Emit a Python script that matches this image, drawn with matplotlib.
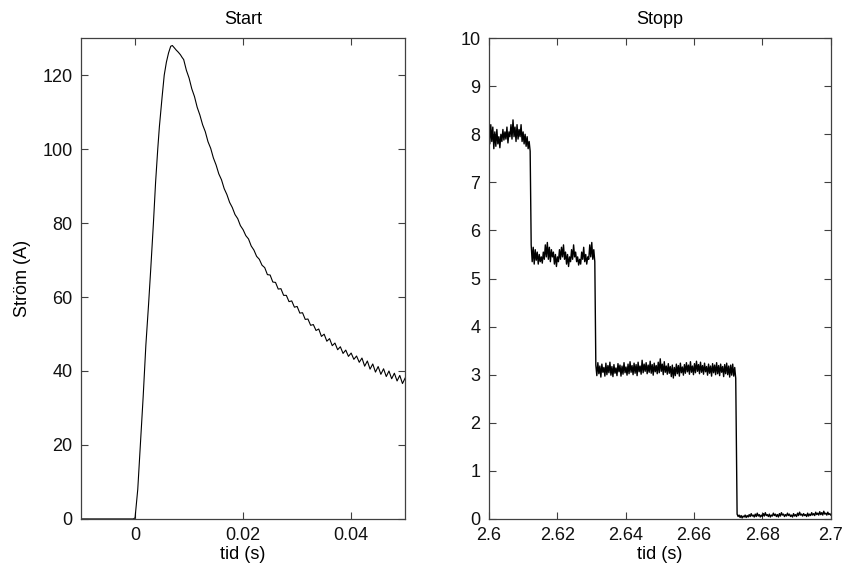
import numpy as np
import matplotlib
matplotlib.use('Agg')
import matplotlib.pyplot as plt

plt.rcParams['font.family'] = ['Liberation Sans', 'DejaVu Sans']
plt.rcParams['font.size'] = 13

# --- Start: current during start-up ---
rise_t = [-0.01, -0.0003, 0.0, 0.0005, 0.0009, 0.0015, 0.0020, 0.0025, 0.0029,
          0.0034, 0.0038, 0.0042, 0.0045, 0.0050, 0.0054, 0.0058, 0.0062,
          0.0066, 0.0069, 0.0072, 0.0076, 0.0080, 0.0084, 0.0087]
rise_i = [0, 0, 0.3, 8, 18, 33, 47, 58, 67.5, 80, 91, 100, 106, 114, 120,
          123.5, 126, 127.8, 128, 127.5, 126.8, 126.2, 125.5, 124.8]

# decay part, sampled every 0.5 ms from 0.009 s to 0.05 s
decay_t0, decay_t1 = 0.009, 0.05
decay_i = [124.2, 121.3, 119.2, 116.3, 114.2, 111.3, 109.2, 106.6, 104.7, 102.0,
           100.2, 97.6, 95.7, 93.3, 91.7, 89.3, 87.7, 85.6, 84.2, 82.3,
           81.2, 79.3, 78.2, 76.6, 75.7, 73.8, 72.7, 71.0, 70.2, 68.6,
           67.95, 66.05, 65.95, 64.05, 63.95, 62.15, 62.25, 60.45, 60.45, 58.75,
           58.95, 57.25, 57.45, 55.65, 55.75, 53.95, 54.05, 52.35, 52.55, 50.95,
           51.35, 49.35, 49.95, 48.05, 48.75, 46.85, 47.55, 45.75, 46.55, 44.75,
           45.65, 43.95, 44.85, 43.15, 44.05, 42.35, 43.5, 41.3, 42.7, 40.5,
           41.9, 39.7, 41.2, 39.1, 40.6, 38.5, 40.0, 37.9, 39.4, 37.3,
           38.8, 36.6, 38.1]

# --- Stopp: current during braking, four plateaus ---
seg_start = [2.6, 2.6124, 2.6313, 2.6726]
seg_end = [2.6121, 2.6310, 2.6722, 2.7]
plat1 = [8.05, 7.80, 8.20, 7.85, 8.15, 7.70, 8.05, 7.75, 8.10, 7.80,
         7.95, 7.72, 8.00, 7.85, 8.10, 7.88, 8.05, 7.90, 8.15, 7.82,
         8.05, 7.95, 8.20, 7.90, 8.30, 7.95, 8.15, 7.85, 8.20, 7.90,
         8.10, 7.95, 8.20, 7.85, 8.05, 7.80, 8.00, 7.75, 7.95, 7.70,
         7.85, 7.65]
plat2 = [5.70, 5.35, 5.65, 5.30, 5.60, 5.38, 5.55, 5.30, 5.50, 5.35,
         5.45, 5.32, 5.55, 5.40, 5.70, 5.45, 5.75, 5.40, 5.65, 5.35,
         5.60, 5.45, 5.55, 5.30, 5.50, 5.25, 5.45, 5.35, 5.60, 5.40,
         5.65, 5.45, 5.70, 5.40, 5.55, 5.30, 5.50, 5.25, 5.45, 5.35,
         5.60, 5.40, 5.70, 5.45, 5.55, 5.35, 5.45, 5.28, 5.40, 5.30,
         5.55, 5.40, 5.65, 5.35, 5.50, 5.30, 5.45, 5.40, 5.70, 5.45,
         5.75, 5.40, 5.60, 5.35]
plat3 = [3.20, 2.98, 3.25, 3.02, 3.18, 2.95, 3.22, 3.05, 3.15, 2.97,
         3.24, 3.00, 3.19, 3.04, 3.26, 2.99, 3.17, 2.96, 3.21, 3.03,
         3.14, 2.98, 3.23, 3.06, 3.20, 2.97, 3.18, 3.01, 3.25, 3.04,
         3.16, 2.99, 3.22, 3.02, 3.27, 3.05, 3.19, 3.00, 3.24, 3.03,
         3.21, 2.98, 3.26, 3.06, 3.18, 3.01, 3.30, 3.04, 3.22, 3.07,
         3.25, 3.02, 3.20, 3.05, 3.28, 3.03, 3.21, 2.99, 3.24, 3.06,
         3.19, 3.02, 3.26, 3.04, 3.33, 3.07, 3.22, 3.00, 3.27, 3.05,
         3.18, 3.01, 3.23, 3.03, 3.17, 2.96, 3.20, 2.93, 3.15, 2.98,
         3.22, 3.02, 3.19, 2.97, 3.24, 3.04, 3.16, 2.99, 3.21, 3.03,
         3.25, 3.06, 3.20, 3.01, 3.27, 3.05, 3.18, 3.00, 3.23, 3.04,
         3.28, 3.07, 3.21, 3.02, 3.26, 3.05, 3.19, 3.01, 3.24, 3.06,
         3.17, 2.99, 3.22, 3.03, 3.18, 2.97, 3.23, 3.04, 3.20, 3.00,
         3.25, 3.02, 3.19, 2.98, 3.22, 3.05, 3.17, 2.96, 3.21, 3.02,
         3.24, 3.00, 3.18, 2.95, 3.20, 2.99, 3.22, 2.97, 3.15, 2.92]
plat4 = [0.10, 0.05, 0.08, 0.03, 0.07, 0.02, 0.06, 0.04, 0.08, 0.03,
         0.07, 0.04, 0.09, 0.05, 0.11, 0.06, 0.08, 0.04, 0.10, 0.05,
         0.12, 0.06, 0.09, 0.04, 0.08, 0.05, 0.11, 0.06, 0.13, 0.07,
         0.09, 0.05, 0.10, 0.04, 0.08, 0.06, 0.12, 0.07, 0.10, 0.05,
         0.09, 0.04, 0.11, 0.06, 0.13, 0.08, 0.10, 0.05, 0.09, 0.06,
         0.12, 0.07, 0.10, 0.05, 0.08, 0.04, 0.11, 0.06, 0.09, 0.05,
         0.12, 0.07, 0.14, 0.08, 0.10, 0.06, 0.11, 0.07, 0.09, 0.05,
         0.12, 0.06, 0.10, 0.07, 0.13, 0.08, 0.11, 0.07, 0.14, 0.09,
         0.12, 0.08, 0.15, 0.09, 0.13, 0.08, 0.16, 0.10, 0.12, 0.08,
         0.14, 0.09, 0.11, 0.08]
plateaus = [plat1, plat2, plat3, plat4]

left_xticks = [0, 0.02, 0.04]
left_yticks = [0, 20, 40, 60, 80, 100, 120]
right_xticks = [2.6, 2.62, 2.64, 2.66, 2.68, 2.7]
right_xlabels = ['2.6', '2.62', '2.64', '2.66', '2.68', '2.7']
right_yticks = list(range(0, 11))

axcol = '#404040'


def style(ax):
    for s in ax.spines.values():
        s.set_color(axcol)
        s.set_linewidth(0.9)
    ax.tick_params(direction='in', top=True, right=True, length=5,
                   width=0.8, color=axcol, labelcolor='#111111', pad=6)


fig = plt.figure(figsize=(8.53, 5.69), dpi=100)
ax1 = fig.add_axes([0.095, 0.088, 0.380, 0.845])
ax2 = fig.add_axes([0.573, 0.088, 0.401, 0.845])

t_start = np.concatenate([rise_t, np.linspace(decay_t0, decay_t1, len(decay_i))])
i_start = np.concatenate([rise_i, decay_i])
ax1.plot(t_start, i_start, color='black', linewidth=0.8)
ax1.set_xlim(-0.01, 0.05)
ax1.set_ylim(0, 130)
ax1.set_xticks(left_xticks)
ax1.set_xticklabels(['0', '0.02', '0.04'])
ax1.set_yticks(left_yticks)
ax1.set_title('Start', fontsize=13, pad=10)
ax1.set_xlabel('tid (s)', labelpad=1)
ax1.set_ylabel('Ström (A)', labelpad=8)
style(ax1)

t_stop = np.concatenate([np.linspace(a, b, len(p))
                         for a, b, p in zip(seg_start, seg_end, plateaus)])
i_stop = np.concatenate(plateaus)
ax2.plot(t_stop, i_stop, color='black', linewidth=1.0)
ax2.set_xlim(2.6, 2.7)
ax2.set_ylim(0, 10)
ax2.set_xticks(right_xticks)
ax2.set_xticklabels(right_xlabels)
ax2.set_yticks(right_yticks)
ax2.set_title('Stopp', fontsize=13, pad=10)
ax2.set_xlabel('tid (s)', labelpad=1)
style(ax2)

fig.savefig('out.png', dpi=100, facecolor='white')
